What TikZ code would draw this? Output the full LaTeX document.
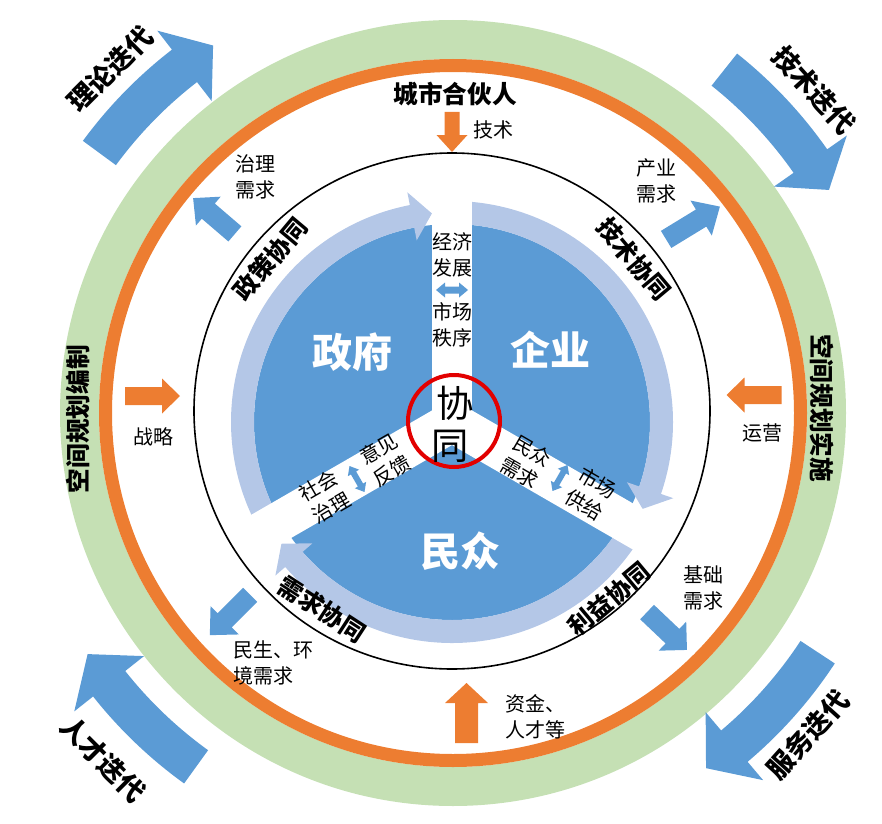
\documentclass[tikz,border=0pt]{standalone}
\usepackage{fontspec}
\setmainfont{Noto Sans CJK SC}

\definecolor{ringgreen}{RGB}{197,224,180}
\definecolor{ringorange}{RGB}{237,125,49}
\definecolor{darkblue}{RGB}{91,155,213}
\definecolor{paleblue}{RGB}{180,199,231}
\definecolor{circlered}{RGB}{226,0,0}

% straight block arrow: centre, angle, length, shaft, head width, head length, colour
\newcommand{\blockarrow}[7]{%
  \fill[#7, shift={#1}, rotate=#2]
    (-#3/2,-#4/2) -- ({#3/2-#6},-#4/2) -- ({#3/2-#6},-#5/2) -- (#3/2,0)
    -- ({#3/2-#6},#5/2) -- ({#3/2-#6},#4/2) -- (-#3/2,#4/2) -- cycle;}
% two-way arrow: centre, angle, length, shaft, head width, head length
\newcommand{\twowayarrow}[6]{%
  \fill[darkblue, shift={#1}, rotate=#2]
    (-#3/2,0) -- ({-#3/2+#6},-#5/2) -- ({-#3/2+#6},-#4/2) -- ({#3/2-#6},-#4/2)
    -- ({#3/2-#6},-#5/2) -- (#3/2,0) -- ({#3/2-#6},#5/2) -- ({#3/2-#6},#4/2)
    -- ({-#3/2+#6},#4/2) -- ({-#3/2+#6},#5/2) -- cycle;}
% curved arrow: centre, start, head base, tip, inner r, outer r, head extend, colour
\newcommand{\ringarrow}[8]{%
  \fill[#8, shift={#1}] (#2:#5) arc[start angle=#2, end angle=#3, radius=#5]
    -- (#3:{#5-#7}) -- (#4:{(#5+#6)/2}) -- (#3:{#6+#7}) -- (#3:#6)
    arc[start angle=#3, end angle=#2, radius=#6] -- cycle;}

\begin{document}
\begin{tikzpicture}[x=0.75pt,y=0.75pt,yscale=-1,xscale=1,
  small/.style={font=\fontsize{15}{19.5}\selectfont, align=center, inner sep=0pt},
  heading/.style={font=\fontsize{18.5}{22}\selectfont\bfseries, inner sep=0pt},
  loop label/.style={font=\fontsize{20}{24}\selectfont\bfseries, inner sep=0pt},
  party/.style={font=\fontsize{30}{36}\selectfont\bfseries, text=white, inner sep=0pt},
  core/.style={font=\fontsize{28}{32}\selectfont, inner sep=0pt}]
\useasboundingbox (0,0) rectangle (882,824);

%Shape: Outer rings
\fill[ringgreen, even odd rule] (453,413) circle[radius=393] (453,413) circle[radius=354];
\draw[ringorange, line width=9.75pt] (453,413) circle[radius=347.5];
%Shape: Circle
\draw[line width=1.2pt] (452,411) circle[radius=258];

%Shape: Outer loop arrows
\ringarrow{(452,412)}{-143.7}{-127.7}{-123.1}{417}{458}{24}{darkblue}
\ringarrow{(452,412)}{-51.5}{-35}{-30.5}{417}{458}{24}{darkblue}
\ringarrow{(452,412)}{33.3}{49.8}{54.5}{417}{458}{24}{darkblue}
\ringarrow{(452,412)}{125.8}{141.6}{146.4}{417}{458}{24}{darkblue}

%Shape: Three sectors
\fill[darkblue] (452,422) circle[radius=198];
\ringarrow{(452,422)}{150}{259}{264.5}{198}{221}{13}{paleblue}
\ringarrow{(452,422)}{-90}{19}{24.5}{198}{221}{13}{paleblue}
\ringarrow{(452,422)}{30}{139}{144.5}{198}{221}{13}{paleblue}
\foreach \a in {-90,30,150}
  \fill[white, shift={(452,422)}, rotate=\a] (0,-20) rectangle (240,20);
\draw[circlered, line width=3pt] (454,421) circle[radius=46];

%Shape: Orange arrows
\blockarrow{(452,132)}{90}{40}{15}{31}{17}{ringorange}
\blockarrow{(152.5,396)}{0}{55}{18}{35}{18}{ringorange}
\blockarrow{(754,395)}{180}{55}{18}{35}{18}{ringorange}
\blockarrow{(466.5,713)}{-90}{60}{23}{43}{20}{ringorange}
%Shape: Blue arrows
\blockarrow{(214,216)}{-139.4}{55}{20}{38}{20}{darkblue}
\blockarrow{(693,223)}{-31.4}{63}{20}{41}{22}{darkblue}
\blockarrow{(230,615)}{135}{57}{20}{40}{21}{darkblue}
\blockarrow{(667,631)}{43.5}{55}{20}{40}{20}{darkblue}
\twowayarrow{(452,290)}{0}{32}{7}{15}{9}
\twowayarrow{(357,479)}{60}{30}{6}{13}{8}
\twowayarrow{(560,478)}{120}{30}{6}{13}{8}

% Text Node
\node[loop label, rotate=45] (theory) at (110,69) {理论迭代};
\node[loop label, rotate=-48] (techloop) at (814,90) {技术迭代};
\node[loop label, rotate=48] (service) at (808,735) {服务迭代};
\node[loop label, rotate=-45] (talent) at (103,759) {人才迭代};
\node[heading, rotate=90] (compile) at (78,419) {空间规划编制};
\node[heading, rotate=-90] (implement) at (822,408) {空间规划实施};
\node[heading] (partner) at (455,94) {城市合伙人};
\node[heading, rotate=50] (policy) at (270,259) {政策协同};
\node[heading, rotate=-50] (techsyn) at (634,259) {技术协同};
\node[heading, rotate=-33] (demand) at (322,609) {需求协同};
\node[heading, rotate=40] (benefit) at (609,599) {利益协同};

\node[party] (gov) at (352,352) {政府};
\node[party] (firm) at (550,350) {企业};
\node[party] (people) at (460,551) {民众};
\node[core] (xie) at (455,403) {协};
\node[core] (tong) at (450,446) {同};

\node[small] (tech) at (493,130) {技术};
\node[small] (strategy) at (153,437) {战略};
\node[small] (operate) at (762,433) {运营};
\node[small, align=left, anchor=west] (funds) at (505,717) {资金、\\人才等};
\node[small] (govneed) at (255,177) {治理\\需求};
\node[small] (indneed) at (656,181) {产业\\需求};
\node[small, align=left, anchor=west] (envneed) at (233,663) {民生、环\\境需求};
\node[small] (baseneed) at (703,588) {基础\\需求};

\node[small] (economy) at (452,255) {经济\\发展};
\node[small] (order) at (452,325) {市场\\秩序};
\node[small, rotate=30] (feedback) at (385,460) {意见\\反馈};
\node[small, rotate=30] (society) at (325,497) {社会\\治理};
\node[small, rotate=-30] (pubneed) at (526,462) {民众\\需求};
\node[small, rotate=-30] (supply) at (591,494) {市场\\供给};

\end{tikzpicture}
\end{document}
